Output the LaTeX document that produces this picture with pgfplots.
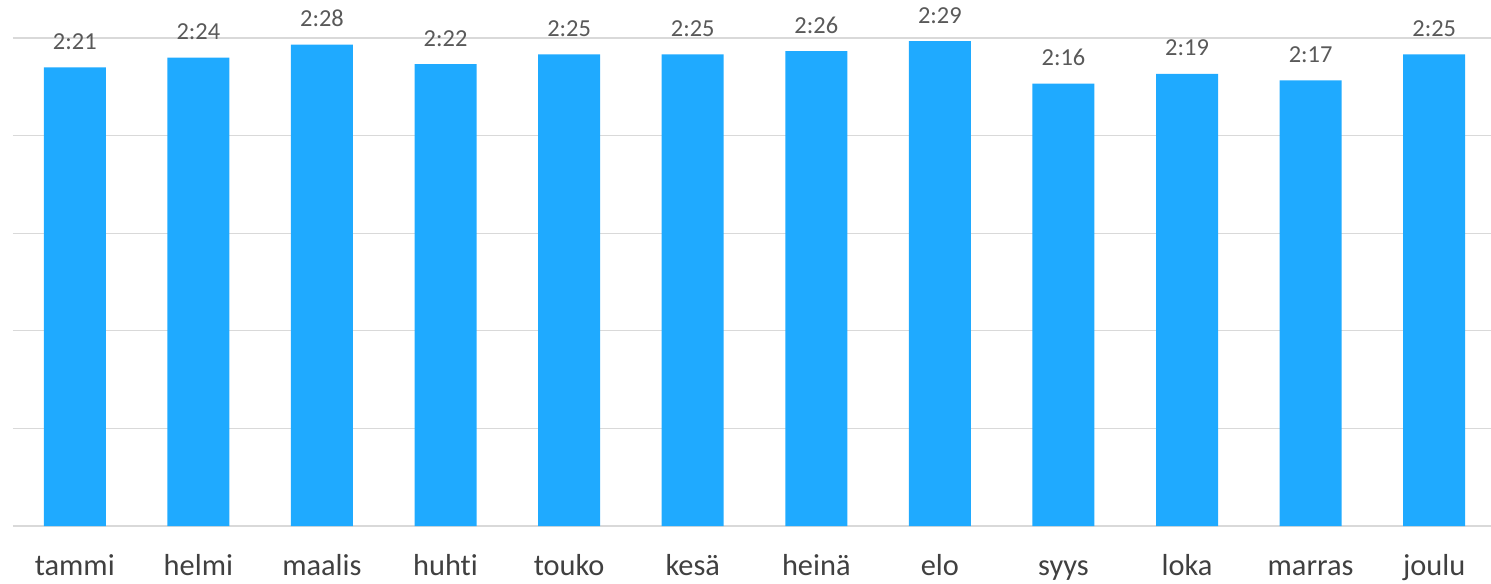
\documentclass[border=0pt]{standalone}
\usepackage{pgfplots}
\pgfplotsset{compat=1.18}
\usepackage{pgfplotstable}
\usepackage{fontspec}
\setmainfont[Ligatures=NoCommon]{Carlito}

\definecolor{barblue}{HTML}{1FAAFF}
\definecolor{gridgray}{HTML}{D9D9D9}
\definecolor{labelgray}{HTML}{595959}
\definecolor{catgray}{HTML}{404040}

% average duration per month, in minutes, with its h:mm label
\pgfplotstableread{
x  min  lbl
0  141  2:21
1  144  2:24
2  148  2:28
3  142  2:22
4  145  2:25
5  145  2:25
6  146  2:26
7  149  2:29
8  136  2:16
9  139  2:19
10 137  2:17
11 145  2:25
}\months

\begin{document}
\begin{tikzpicture}
\begin{axis}[
  name=ax,
  scale only axis,
  width=1483bp, height=488bp,
  xmin=-0.5, xmax=11.5,
  ymin=0, ymax=150,
  ytick={0,30,...,150},
  yticklabels={},
  ymajorgrids,
  grid style={draw=gridgray, line width=1.2bp},
  axis line style={draw=none},
  major tick length=0pt,
  xtick=data,
  xticklabels={tammi,helmi,maalis,huhti,touko,kesä,heinä,elo,syys,loka,marras,joulu},
  xticklabel style={font=\fontsize{30.5}{36}\selectfont, text=catgray, anchor=base, yshift=-49bp},
  ybar,
  bar width=62bp,
  nodes near coords,
  point meta=explicit symbolic,
  every node near coord/.append style={font=\fontsize{24.5}{29}\selectfont, text=labelgray, anchor=base, yshift=18bp},
  clip=false,
]
\addplot[fill=barblue, draw=none] table[x=x, y=min, meta=lbl] {\months};
\end{axis}
\pgfresetboundingbox
\path[use as bounding box] ([xshift=-13bp,yshift=-58bp]ax.south west) rectangle ([xshift=1478bp,yshift=38bp]ax.north west);
\end{tikzpicture}
\end{document}
